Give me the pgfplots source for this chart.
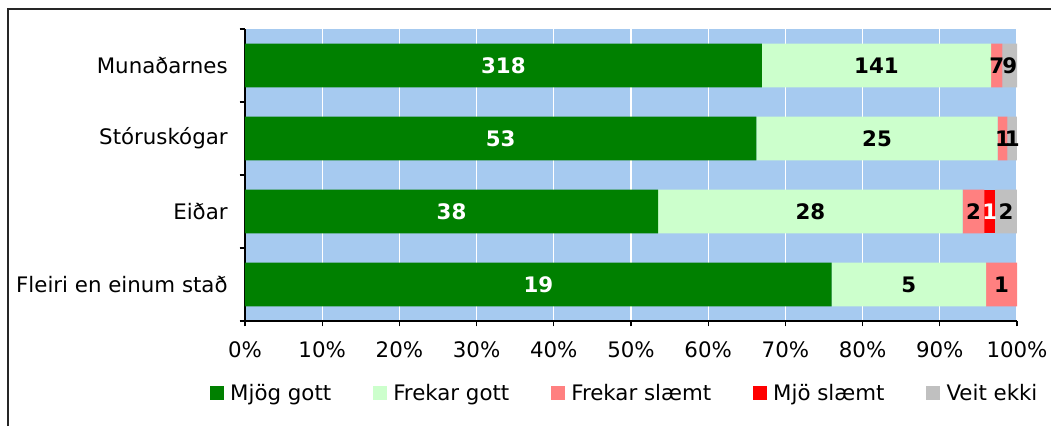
\documentclass[border=0pt]{standalone}
\usepackage{fontspec}
\setmainfont{DejaVu Sans}
\usepackage{pgfplots}
\usepackage{pgfplotstable}
\pgfplotsset{compat=1.18}
\definecolor{cA}{HTML}{008000}
\definecolor{cB}{HTML}{CCFFCC}
\definecolor{cC}{HTML}{FF8080}
\definecolor{cD}{HTML}{FF0000}
\definecolor{cE}{HTML}{C0C0C0}
\definecolor{bg}{HTML}{A6CAF0}

\pgfplotstableread{
y a b c d e t
3 318 141 7 0 9 475
2 53 25 1 0 1 80
1 38 28 2 1 2 71
0 19 5 1 0 0 25
}\data

\pgfplotsset{base/.style={scale only axis, width=579pt, height=219pt,
  at={(183.75pt,78.75pt)}, anchor=south west,
  xmin=0, xmax=100, ymin=-0.5, ymax=3.5}}

\begin{document}
\begin{tikzpicture}[font=\fontsize{16}{19}\selectfont]
\useasboundingbox (0,0) rectangle (788.25pt,319.5pt);
\draw[line width=1.1pt, black!85] (6pt,0) -- (6pt,312.75pt) -- (788.25pt,312.75pt);
\begin{axis}[base,
  xbar stacked, bar width=0.6,
  axis background/.style={fill=bg},
  axis x line*=bottom, axis y line*=left,
  axis line style={black, line width=0.9pt},
  tick align=outside,
  xtick={0,10,...,100},
  xticklabel={\pgfmathprintnumber{\tick}\%},
  xticklabel style={/pgf/number format/assume math mode=true, yshift=-8pt},
  ytick={0,1,2,3},
  yticklabels={Fleiri en einum stað,Eiðar,Stóruskógar,Munaðarnes},
  yticklabel style={xshift=-5.5pt},
  minor ytick={-0.5,0.5,1.5,2.5,3.5},
  major y tick style={draw=none},
  minor y tick style={black, line width=0.8pt},
  major x tick style={black, line width=0.8pt},
  major tick length=4pt, minor tick length=4pt,
  xmajorgrids, major x grid style={white, line width=1pt},
  legend style={at={(0.492,-0.2466)}, anchor=center,
    legend columns=-1, draw=none, fill=none,
    /tikz/every even column/.append style={column sep=29pt}},
  legend image code/.code={\fill[#1] (0pt,-5.25pt) rectangle (10.5pt,5.25pt); \path (13.5pt,0);},
]
\addplot[fill=cA, draw=none] table[y=y, x expr={\thisrow{a}/\thisrow{t}*100}] {\data};
\addplot[fill=cB, draw=none] table[y=y, x expr={\thisrow{b}/\thisrow{t}*100}] {\data};
\addplot[fill=cC, draw=none] table[y=y, x expr={\thisrow{c}/\thisrow{t}*100}] {\data};
\addplot[fill=cD, draw=none] table[y=y, x expr={\thisrow{d}/\thisrow{t}*100}] {\data};
\addplot[fill=cE, draw=none] table[y=y, x expr={\thisrow{e}/\thisrow{t}*100}] {\data};
\legend{Mjög gott, Frekar gott, Frekar slæmt, Mjö slæmt, Veit ekki}
\end{axis}
\begin{axis}[base, hide axis, unbounded coords=discard,
  every node near coord/.append style={anchor=center, font=\fontsize{16}{19}\selectfont\bfseries}]
\addplot[draw=none, mark=none, nodes near coords, point meta=explicit symbolic,
  every node near coord/.append style={text=white}]
  table[y=y, x expr={\thisrow{a}/2/\thisrow{t}*100}, meta=a] {\data};
\addplot[draw=none, mark=none, nodes near coords, point meta=explicit symbolic,
  every node near coord/.append style={text=black}]
  table[y=y, x expr={(\thisrow{a}+\thisrow{b}/2)/\thisrow{t}*100}, meta=b] {\data};
\addplot[draw=none, mark=none, nodes near coords, point meta=explicit symbolic,
  every node near coord/.append style={text=black}]
  table[y=y, x expr={\thisrow{c}>0 ? (\thisrow{a}+\thisrow{b}+\thisrow{c}/2)/\thisrow{t}*100 : nan}, meta=c] {\data};
\addplot[draw=none, mark=none, nodes near coords, point meta=explicit symbolic,
  every node near coord/.append style={text=white}]
  table[y=y, x expr={\thisrow{d}>0 ? (\thisrow{a}+\thisrow{b}+\thisrow{c}+\thisrow{d}/2)/\thisrow{t}*100 : nan}, meta=d] {\data};
\addplot[draw=none, mark=none, nodes near coords, point meta=explicit symbolic,
  every node near coord/.append style={text=black}]
  table[y=y, x expr={\thisrow{e}>0 ? (\thisrow{a}+\thisrow{b}+\thisrow{c}+\thisrow{d}+\thisrow{e}/2)/\thisrow{t}*100 : nan}, meta=e] {\data};
\end{axis}
\end{tikzpicture}
\end{document}
